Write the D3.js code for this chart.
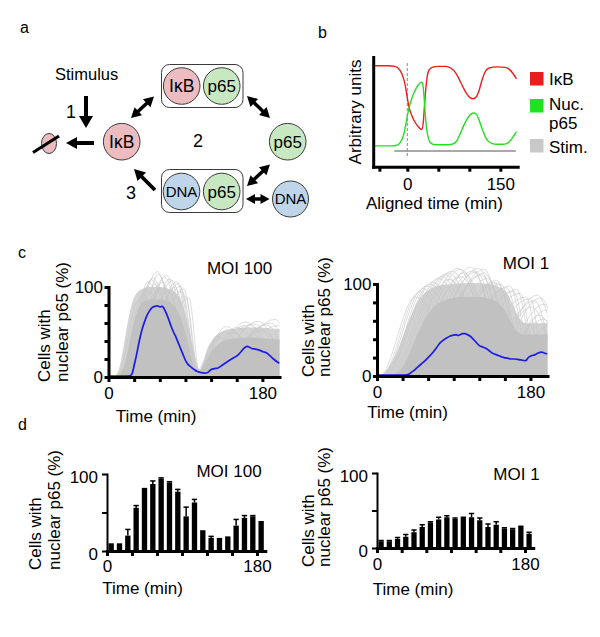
<!DOCTYPE html>
<html><head><meta charset="utf-8">
<script src="https://cdn.jsdelivr.net/npm/d3@7"></script>
<style>
body{margin:0;background:#fff}
svg{display:block}
</style>
</head><body>
<svg id="fig" width="600" height="637"></svg>
<script>
// ================= DATA =================
// Panel b: model curves (aligned time in min, arbitrary units 0..1)
const bIkB = [[-55,0.92],[-30,0.92],[-20,0.915],[-15,0.90],[-9,0.85],[-4,0.76],[0,0.63],[3,0.535],[7,0.47],[12,0.41],[17,0.37],[21,0.345],[23.5,0.34],[26,0.42],[28,0.58],[30,0.72],[32,0.82],[35,0.88],[40,0.905],[50,0.915],[62,0.915],[70,0.90],[78,0.855],[86,0.77],[94,0.68],[101,0.63],[106,0.62],[111,0.635],[116,0.70],[121,0.80],[126,0.87],[132,0.90],[145,0.91],[158,0.905],[165,0.885],[171,0.845],[176,0.80]];
const bNucP65 = [[-55,0.19],[-25,0.19],[-17,0.195],[-12,0.215],[-6,0.29],[-3,0.365],[0,0.46],[3,0.54],[7,0.62],[12,0.69],[17,0.74],[21,0.765],[23.5,0.77],[25.5,0.73],[27.5,0.60],[29.5,0.44],[31.5,0.33],[34,0.26],[38,0.215],[45,0.20],[60,0.20],[72,0.205],[79,0.23],[86,0.31],[93,0.40],[100,0.465],[106,0.49],[111,0.48],[116,0.42],[121,0.34],[126,0.27],[132,0.225],[142,0.205],[155,0.205],[163,0.22],[169,0.26],[176,0.32]];
const bStim = [[-21,0.143],[175,0.143]];
const bTicks = [-45, 0, 50, 100, 150];
const bTickLabels = [0, 150];
const bLegend = ["IκB", "Nuc.|p65", "Stim."];

// Panel c: population mean (% cells with nuclear p65)
const cMoi100Mean = [[0,1],[10,1],[20,1],[25,1.2],[27.7,4],[30.5,15],[33.5,28],[36,40],[39,52],[42,61],[45,68.5],[48,73.5],[51,77],[54,78.5],[57,79],[60,78],[63,78.5],[65,76],[67,72],[70,65],[73,57],[76,50],[79,44],[82,37],[85,30],[88,23],[90,18.5],[93,14],[96.6,11],[100,8.5],[104,6],[108,5],[112,4.4],[116,5],[119,7.5],[122,9],[125,9.5],[128,10],[133,13],[139,17],[145,20.5],[151,24],[155,28],[158,31.5],[160,33],[162,34],[165,33],[168,31.5],[172,31],[177,29.6],[181,28],[185,26.7],[189,23.5],[193,20],[197,17],[200,15.4]];
const cMoi1Mean = [[0,1],[15,1],[25,1],[35,1.2],[39,3],[42.7,5.5],[48,10],[54.5,15],[60,20],[66,26],[70,31],[74,36],[78,39],[82,41.5],[86,43.5],[90,44.4],[93,45],[95,44],[98,45],[100,46],[103,46],[106,45],[109,43.5],[112,41],[116,37],[120,33],[124,31.5],[128,30],[131,28],[135,25],[139,23.5],[143,22],[146,21],[149,20],[153,19.5],[157,18.5],[161,18.5],[165,18],[169,17.5],[173,16.7],[175,17],[177,19.6],[181,22],[185,23],[189,25],[193,26],[196,25],[200,24]];
// envelopes of the single-cell traces: outer (sparser) and inner (dense core)
const cMoi100Outer = [[-5,0],[6,0],[12,8],[17,30],[22,58],[27,80],[32,92],[40,98],[50,100],[60,100],[70,98],[78,94],[85,85],[90,70],[95,50],[100,28],[104,12],[107,8],[110,15],[115,30],[122,42],[132,50],[145,53],[160,55],[175,55],[190,54],[205,53]];
const cMoi100Core = [[-5,0],[10,0],[15,5],[20,18],[25,40],[30,62],[35,76],[40,83],[50,86],[62,86],[72,83],[80,75],[86,62],[91,45],[96,26],[100,12],[104,5],[108,7],[113,16],[120,28],[128,36],[138,41],[150,43],[165,44],[180,43],[195,42],[205,41]];
const cMoi1Outer = [[-5,0],[4,0],[10,5],[18,16],[26,32],[34,52],[42,70],[50,84],[60,93],[72,98],[90,100],[110,101],[130,100],[145,96],[154,88],[160,76],[166,64],[172,58],[185,57],[200,58],[205,58]];
const cMoi1Core = [[-5,0],[12,0],[22,3],[30,10],[38,24],[46,42],[54,58],[62,70],[72,79],[85,84],[100,86],[118,86],[132,84],[144,78],[152,68],[158,57],[164,49],[172,45],[188,45],[200,46],[205,46]];
// individual single-cell pulses: [start, peak time, peak %, end]
const cMoi100Traces = [[14,57,117,92],[18,50,108,88],[20,66,111,97],[24,75,107,100],[28,82,104,103],[16,45,100,84],[22,60,98,95],[26,70,96,99],[12,40,92,78],[30,86,95,105],[19,54,103,90],[34,78,100,102],[17,48,94,86],[23,63,105,96],[38,90,90,106],[21,38,75,72],[25,52,88,85],[10,35,85,70],[13,44,96,82],[15,52,110,89],[27,58,114,93],[29,72,109,99],[32,80,106,102],[36,84,101,104],[40,88,98,106],[20,46,106,86],[24,68,113,97],[31,62,99,94],[43,94,88,107],[96,135,50,185],[100,150,55,205],[104,165,58,215],[108,175,62,220],[112,185,58,225],[118,195,64,230],[99,140,53,195],[106,158,57,210],[102,128,45,170],[115,180,52,225],[110,190,60,230],[98,138,56,190],[103,160,61,212],[113,170,59,222],[120,198,57,232],[107,145,49,198]];
const cMoi1Traces = [[5,50,92,115],[8,58,98,122],[10,65,102,130],[12,72,106,135],[15,80,110,140],[18,88,114,145],[22,95,117,150],[26,102,112,155],[30,110,118,160],[34,116,113,163],[38,122,110,166],[42,130,106,170],[48,137,102,172],[55,145,100,176],[62,152,96,180],[70,160,92,185],[78,168,90,190],[85,175,86,195],[120,188,88,225],[130,196,78,230],[115,182,75,220],[20,85,105,142],[28,98,108,152],[45,125,116,168],[60,140,104,178],[150,185,58,230],[145,195,62,235],[155,200,55,240],[3,45,86,110],[6,54,95,118],[9,62,100,126],[14,76,108,138],[17,84,112,143],[24,98,116,152],[32,112,114,160],[36,119,117,164],[40,126,112,168],[52,141,101,174],[66,156,98,182],[74,164,94,188],[90,180,84,198],[110,185,82,215],[125,192,85,228],[135,199,72,232],[140,190,66,235]];
const cTimeTicks = [0,30,60,90,120,150,180];
const cTimeLabels = [0,180];
const cValueTicks = [0,20,40,60,80,100];
const cValueLabels = [0,100];

// Panel d: binned % cells with nuclear p65 (10-min bins)
const dBins = [0,10,20,30,40,50,60,70,80,90,100,110,120,130,140,150,160,170,180];
const dMoi100 = [10,10,20,56,82,87,94,89,77,45,63,27,17,17,19,33,43,45,39];
const dMoi100Err = [0,0,8,3,0,4,1,1,3,12,4,0,2,0,0,8,3,1,0];
const dMoi1 = [9,9,12,15,21,28,34,38,41,39,40,41,37,28,31,26,25,28,19];
const dMoi1Err = [1,1,2,3,3,3,1,3,2,1,1,5,3,4,4,1,1,1,2];
const dTimeTicks = [0,30,60,90,120,150,180];
const dTimeLabels = [0,180];
const dValueTicks = [0,50,100];
const dValueLabels = [0,100];

// ================= DRAWING =================
const FONT = '"Liberation Sans", Arial, Helvetica, sans-serif';
const svg = d3.select("#fig");
svg.append("rect").attr("width",600).attr("height",637).attr("fill","#fff");
const defs = svg.append("defs");

function txt(x, y, s, size, anchor, extra) {
  const t = svg.append("text").attr("x", x).attr("y", y).text(s)
    .attr("font-family", FONT).attr("font-size", size).attr("fill", "#000")
    .attr("text-anchor", anchor || "start");
  if (extra) extra(t);
  return t;
}
function styleAxis(g, sw, fs) {
  g.attr("font-family", FONT).attr("font-size", fs);
  g.select(".domain").attr("stroke", "#000").attr("stroke-width", sw).attr("stroke-linecap", "square");
  g.selectAll(".tick line").attr("stroke", "#000").attr("stroke-width", sw);
  g.selectAll(".tick text").attr("fill", "#000");
}
function vlabel(x, y, s, size) {
  return svg.append("text").attr("transform", `translate(${x},${y}) rotate(-90)`)
    .attr("font-family", FONT).attr("font-size", size).attr("fill", "#000").text(s);
}

// panel letters
txt(20, 33, "a", 16);
txt(318, 38, "b", 16);
txt(18, 258, "c", 16);
txt(18, 430, "d", 16);

// ---------- Panel a: diagram ----------
const PINK = "#ecbcc0", GREEN = "#c8e8c2", BLUE = "#bfd6ea", STROKE = "#3a3a3a";
function arrow(x1, y1, x2, y2, both, h, hw, sw) {
  const dx = x2 - x1, dy = y2 - y1, L = Math.hypot(dx, dy), ux = dx / L, uy = dy / L, px = -uy, py = ux;
  const w = hw / 2;
  const s1x = both ? x1 + ux * h * 0.8 : x1, s1y = both ? y1 + uy * h * 0.8 : y1;
  const s2x = x2 - ux * h * 0.8, s2y = y2 - uy * h * 0.8;
  svg.append("line").attr("x1", s1x).attr("y1", s1y).attr("x2", s2x).attr("y2", s2y)
    .attr("stroke", "#000").attr("stroke-width", sw);
  const head = (tx, ty, dxu, dyu) => [[tx, ty], [tx - dxu * h + px * w, ty - dyu * h + py * w], [tx - dxu * h - px * w, ty - dyu * h - py * w]];
  svg.append("polygon").attr("points", head(x2, y2, ux, uy).join(" ")).attr("fill", "#000");
  if (both) svg.append("polygon").attr("points", head(x1, y1, -ux, -uy).join(" ")).attr("fill", "#000");
}
function mol(cx, cy, r, fill, label, fs) {
  svg.append("circle").attr("cx", cx).attr("cy", cy).attr("r", r).attr("fill", fill).attr("stroke", STROKE).attr("stroke-width", 1);
  txt(cx, cy, label, fs, "middle", t => t.attr("dy", "0.36em"));
}
txt(55, 80, "Stimulus", 16.5);
txt(66, 118, "1", 18);
txt(193, 146.5, "2", 18);
txt(126, 199, "3", 18);
arrow(86, 96, 86, 128, false, 12, 14, 4);
arrow(94, 143, 66, 143, false, 11, 12, 4);
svg.append("ellipse").attr("cx", 49).attr("cy", 143.5).attr("rx", 7.5).attr("ry", 10).attr("fill", PINK).attr("stroke", STROKE).attr("stroke-width", 1);
svg.append("line").attr("x1", 33).attr("y1", 152.5).attr("x2", 59).attr("y2", 136).attr("stroke", "#000").attr("stroke-width", 3.2);
mol(121.7, 141.7, 18.3, PINK, "IκB", 17.5);
svg.append("rect").attr("x", 161.5).attr("y", 64.5).attr("width", 81.5).attr("height", 43).attr("rx", 8).attr("fill", "#fff").attr("stroke", STROKE).attr("stroke-width", 1);
mol(181.7, 86, 18.3, PINK, "IκB", 17.5);
mol(221.7, 86, 18.3, GREEN, "p65", 17);
mol(287.7, 141.7, 18.3, GREEN, "p65", 17);
svg.append("rect").attr("x", 161.5).attr("y", 169.5).attr("width", 81.5).attr("height", 43).attr("rx", 8).attr("fill", "#fff").attr("stroke", STROKE).attr("stroke-width", 1);
mol(181.5, 191.5, 18.3, BLUE, "DNA", 15);
mol(221.7, 191.5, 18.3, GREEN, "p65", 17);
mol(290.5, 199, 18, BLUE, "DNA", 15);
arrow(154, 96.5, 131, 118, true, 10, 11, 3.5);
arrow(247, 96, 270, 118, true, 10, 11, 3.5);
arrow(270, 164.5, 247, 186, true, 10, 11, 3.5);
arrow(246, 199, 269.5, 199, true, 9, 10, 3.5);
arrow(155, 190, 134, 169, false, 11, 12, 3.8);

// ---------- Panel b ----------
(function () {
  const x = d3.scaleLinear().domain([-55, 178]).range([373.2, 517.7]);
  const y = d3.scaleLinear().domain([0, 1]).range([166.7, 57]);
  const line = d3.line().x(d => x(d[0])).y(d => y(d[1])).curve(d3.curveMonotoneX);
  svg.append("line").attr("x1", x(0)).attr("x2", x(0)).attr("y1", y(0.945)).attr("y2", y(0.095))
    .attr("stroke", "#8a8a8a").attr("stroke-width", 1).attr("stroke-dasharray", "3,2");
  svg.append("path").attr("d", line(bStim)).attr("fill", "none").attr("stroke", "#8c8c8c").attr("stroke-width", 1.5);
  svg.append("path").attr("d", line(bIkB)).attr("fill", "none").attr("stroke", "#f01c1c").attr("stroke-width", 1.4);
  svg.append("path").attr("d", line(bNucP65)).attr("fill", "none").attr("stroke", "#22e022").attr("stroke-width", 1.4);
  const ya = svg.append("g").attr("transform", `translate(${x(-55)},0)`).call(d3.axisLeft(y).tickValues([]).tickSizeOuter(0));
  styleAxis(ya, 3, 17);
  const xa = svg.append("g").attr("transform", `translate(0,${y(0)})`)
    .call(d3.axisBottom(x).tickValues(bTicks).tickSize(5).tickSizeOuter(0).tickPadding(6)
      .tickFormat(d => bTickLabels.includes(d) ? String(d) : ""));
  styleAxis(xa, 3, 17);
  vlabel(360.5, 112, "Arbitrary units", 17).attr("text-anchor", "middle");
  txt(434.5, 209, "Aligned time (min)", 17, "middle");
  // legend
  const lcol = ["#ea1c1c", "#22e022", "#c8c8c8"];
  const ly = [72, 99, 139];
  const lbase = [85, 110, 152.5];
  bLegend.forEach((s, i) => {
    svg.append("rect").attr("x", 530).attr("y", ly[i]).attr("width", 13.5).attr("height", 13.5).attr("fill", lcol[i]);
    s.split("|").forEach((part, j) => txt(549, lbase[i] + j * 19.4, part, 17));
  });
})();

// ---------- Panel c ----------
function drawC(cfg) {
  const x = d3.scaleLinear().domain([0, 200]).range([cfg.xl, cfg.xr]);
  const y = d3.scaleLinear().domain([0, 100]).range([cfg.yb, cfg.yt]);
  defs.append("clipPath").attr("id", cfg.id).append("rect")
    .attr("x", x(0)).attr("y", y(125)).attr("width", x(200) - x(0)).attr("height", y(0) - y(125));
  const plot = svg.append("g").attr("clip-path", `url(#${cfg.id})`);
  const line = d3.line().x(d => x(d[0])).y(d => y(d[1])).curve(d3.curveMonotoneX);
  const area = d3.area().x(d => x(d[0])).y0(y(0)).y1(d => y(d[1])).curve(d3.curveMonotoneX);
  plot.append("path").attr("d", area(cfg.outer)).attr("fill", "#d3d3d3");
  cfg.traces.forEach(tr => {
    const pts = [[-20, 0], [tr[0], 0], [tr[1], tr[2]], [tr[3], 0], [260, 0]];
    plot.append("path").attr("d", line(pts)).attr("fill", "none").attr("stroke", "#c6c6c6").attr("stroke-width", 0.6);
  });
  plot.append("path").attr("d", area(cfg.core)).attr("fill", "#c1c1c1");
  plot.append("path").attr("d", line(cfg.mean)).attr("fill", "none").attr("stroke", "#1c1ce8").attr("stroke-width", 1.7);
  const xa = svg.append("g").attr("transform", `translate(0,${cfg.yb})`)
    .call(d3.axisBottom(x).tickValues(cTimeTicks).tickSize(5).tickSizeOuter(0).tickPadding(5)
      .tickFormat(d => cTimeLabels.includes(d) ? String(d) : ""));
  styleAxis(xa, 3, 17);
  const ya = svg.append("g").attr("transform", `translate(${cfg.xl},0)`)
    .call(d3.axisLeft(y).tickValues(cValueTicks).tickSize(4).tickSizeOuter(0).tickPadding(1.5)
      .tickFormat(d => cValueLabels.includes(d) ? String(d) : ""));
  styleAxis(ya, 3, 17);
  txt(cfg.titleX, cfg.titleY, cfg.title, 17, "middle");
  txt(cfg.timeX, cfg.timeY, "Time (min)", 17, "middle");
  vlabel(cfg.lab1, cfg.labY, "Cells with", 17);
  vlabel(cfg.lab2, cfg.labY, "nuclear p65 (%)", 17);
}
drawC({id: "clipC1", xl: 108.5, xr: 279.5, yb: 377, yt: 287, mean: cMoi100Mean, outer: cMoi100Outer, core: cMoi100Core, traces: cMoi100Traces,
  title: "MOI 100", titleX: 239.5, titleY: 274, timeX: 156, timeY: 422, lab1: 49.5, lab2: 67.5, labY: 382});
drawC({id: "clipC2", xl: 377, xr: 547.5, yb: 376, yt: 284, mean: cMoi1Mean, outer: cMoi1Outer, core: cMoi1Core, traces: cMoi1Traces,
  title: "MOI 1", titleX: 526, titleY: 269, timeX: 407.5, timeY: 418, lab1: 313.5, lab2: 329.5, labY: 377});

// ---------- Panel d ----------
function drawD(cfg) {
  const x = d3.scaleLinear().domain([0, 190]).range([cfg.xl, cfg.xr]);
  const y = d3.scaleLinear().domain([0, 100]).range([cfg.yb, cfg.yt]);
  const step = x(10) - x(0), bw = step * 0.64;
  const g = svg.append("g");
  dBins.forEach((b, i) => {
    const cx = x(b + 5), v = cfg.vals[i], e = cfg.errs[i];
    g.append("rect").attr("x", cx - bw / 2).attr("y", y(v)).attr("width", bw).attr("height", y(0) - y(v)).attr("fill", "#000");
    if (e > 0) {
      g.append("line").attr("x1", cx).attr("x2", cx).attr("y1", y(v)).attr("y2", y(v + e)).attr("stroke", "#000").attr("stroke-width", 1.5);
      g.append("line").attr("x1", cx - bw / 2).attr("x2", cx + bw / 2).attr("y1", y(v + e)).attr("y2", y(v + e)).attr("stroke", "#000").attr("stroke-width", 1.5);
    }
  });
  const xa = svg.append("g").attr("transform", `translate(0,${cfg.yb})`)
    .call(d3.axisBottom(x).tickValues(dTimeTicks).tickSize(5).tickSizeOuter(0).tickPadding(cfg.xpad)
      .tickFormat(d => dTimeLabels.includes(d) ? String(d) : ""));
  styleAxis(xa, 3, 17);
  const ya = svg.append("g").attr("transform", `translate(${cfg.xl},0)`)
    .call(d3.axisLeft(y).tickValues(dValueTicks).tickSize(5).tickSizeOuter(0).tickPadding(4)
      .tickFormat(d => dValueLabels.includes(d) ? String(d) : ""));
  styleAxis(ya, 2, 17);
  ya.selectAll(".tick text").attr("dy", "0.52em");
  txt(cfg.titleX, cfg.titleY, cfg.title, 17, "middle");
  txt(cfg.timeX, cfg.timeY, "Time (min)", 17, "middle");
  vlabel(cfg.lab1, cfg.labY, "Cells with", 17);
  vlabel(cfg.lab2, cfg.labY, "nuclear p65 (%)", 17);
}
drawD({xl: 107, xr: 265.3, yb: 551, yt: 474, vals: dMoi100, errs: dMoi100Err, xpad: 4,
  title: "MOI 100", titleX: 229, titleY: 477, timeX: 142.5, timeY: 594, lab1: 41, lab2: 60, labY: 570});
drawD({xl: 377, xr: 533.2, yb: 548, yt: 473, vals: dMoi1, errs: dMoi1Err, xpad: 5,
  title: "MOI 1", titleX: 516.5, titleY: 480, timeX: 413, timeY: 595, lab1: 313.5, lab2: 330, labY: 567});
</script>
</body></html>
